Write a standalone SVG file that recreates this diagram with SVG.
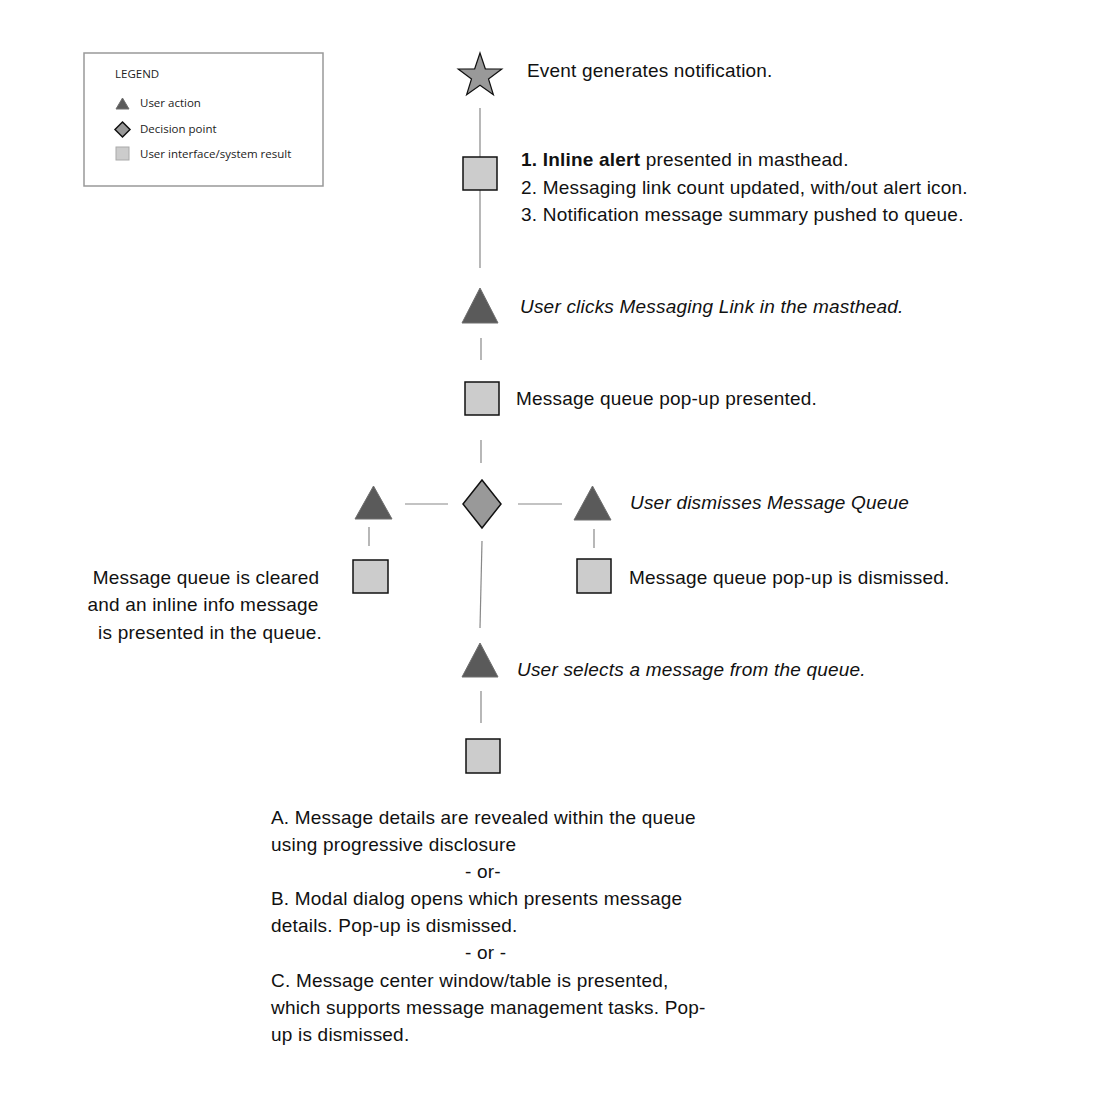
<svg xmlns="http://www.w3.org/2000/svg" width="1100" height="1100" viewBox="0 0 1100 1100">
<style>
.t{font-family:"Liberation Sans",Arial,sans-serif;font-size:19px;letter-spacing:0.2px;fill:#111}
.i{font-style:italic}
.lg{font-family:"Open Sans","Noto Sans",sans-serif;font-size:11.5px;fill:#222}
.sq{fill:#cccccc;stroke:#111;stroke-width:1.5}
.tri{fill:#5a5a5a;stroke:#6e6e6e;stroke-width:1}
.dia{fill:#999;stroke:#111;stroke-width:1.5}
.ln{stroke:#888;stroke-width:1.2;fill:none}
</style>
<rect width="1100" height="1100" fill="#fff"/>
<g id="legend">
<rect x="84" y="53" width="239" height="133" fill="#fff" stroke="#999" stroke-width="1.5"/>
<text class="lg" x="115" y="78">LEGEND</text>
<polygon class="tri" points="122.5,98 129,109 116,109"/>
<text class="lg" x="140" y="107">User action</text>
<polygon class="dia" points="122.5,122 130,129.5 122.5,137 115,129.5" stroke-width="1"/>
<text class="lg" x="140" y="133">Decision point</text>
<rect x="116" y="147" width="13" height="13" fill="#ccc" stroke="#aaa" stroke-width="1"/>
<text class="lg" x="140" y="158">User interface/system result</text>
</g>
<g id="connectors">
<line class="ln" x1="480" y1="108" x2="480" y2="268"/>
<line class="ln" x1="481" y1="338" x2="481" y2="360"/>
<line class="ln" x1="481" y1="440" x2="481" y2="463"/>
<line class="ln" x1="405" y1="504" x2="448" y2="504"/>
<line class="ln" x1="518" y1="504" x2="562" y2="504"/>
<line class="ln" x1="369" y1="527" x2="369" y2="546"/>
<line class="ln" x1="594" y1="529" x2="594" y2="548"/>
<line class="ln" x1="482" y1="541" x2="480" y2="628"/>
<line class="ln" x1="481" y1="691" x2="481" y2="723"/>
</g>
<g id="event">
<polygon points="480,53 485.3,68.8 501.8,69 488.5,78.9 493.4,94.8 480,85.2 466.6,94.8 471.5,78.9 458.2,69 474.7,68.8" fill="#999" stroke="#111" stroke-width="1.2"/>
<text class="t" x="527" y="77">Event generates notification.</text>
</g>
<g id="result1">
<rect class="sq" x="463" y="157" width="34" height="33"/>
<text class="t" x="521" y="166"><tspan font-weight="bold">1. Inline alert</tspan> presented in masthead.</text>
<text class="t" x="521" y="194">2. Messaging link count updated, with/out alert icon.</text>
<text class="t" x="521" y="221">3. Notification message summary pushed to queue.</text>
</g>
<g id="action1">
<polygon class="tri" points="480,288 498,323 462,323"/>
<text class="t i" x="520" y="313">User clicks Messaging Link in the masthead.</text>
</g>
<g id="result2">
<rect class="sq" x="465" y="382" width="34" height="33"/>
<text class="t" x="516" y="405">Message queue pop-up presented.</text>
</g>
<g id="decision">
<polygon class="dia" points="482,480 501,504 482,528 463,504"/>
</g>
<g id="action-left">
<polygon class="tri" points="373.5,486 392,519 355,519"/>
</g>
<g id="result-left">
<rect class="sq" x="353" y="560" width="35" height="33"/>
<text class="t" x="206" y="584" text-anchor="middle">Message queue is cleared</text>
<text class="t" x="203" y="611" text-anchor="middle">and an inline info message</text>
<text class="t" x="210" y="639" text-anchor="middle">is presented in the queue.</text>
</g>
<g id="action-right">
<polygon class="tri" points="592.5,486 611,520 574,520"/>
<text class="t i" x="630" y="509">User dismisses Message Queue</text>
</g>
<g id="result-right">
<rect class="sq" x="577" y="559" width="34" height="34"/>
<text class="t" x="629" y="584">Message queue pop-up is dismissed.</text>
</g>
<g id="action2">
<polygon class="tri" points="480,643 498,677 462,677"/>
<text class="t i" x="517" y="676">User selects a message from the queue.</text>
</g>
<g id="result3">
<rect class="sq" x="466" y="739" width="34" height="34"/>
<text class="t" x="271" y="824">A. Message details are revealed within the queue</text>
<text class="t" x="271" y="851">using progressive disclosure</text>
<text class="t" x="465" y="878">- or-</text>
<text class="t" x="271" y="905">B. Modal dialog opens which presents message</text>
<text class="t" x="271" y="932">details. Pop-up is dismissed.</text>
<text class="t" x="465" y="959">- or -</text>
<text class="t" x="271" y="987">C. Message center window/table is presented,</text>
<text class="t" x="271" y="1014">which supports message management tasks. Pop-</text>
<text class="t" x="271" y="1041">up is dismissed.</text>
</g>
</svg>
